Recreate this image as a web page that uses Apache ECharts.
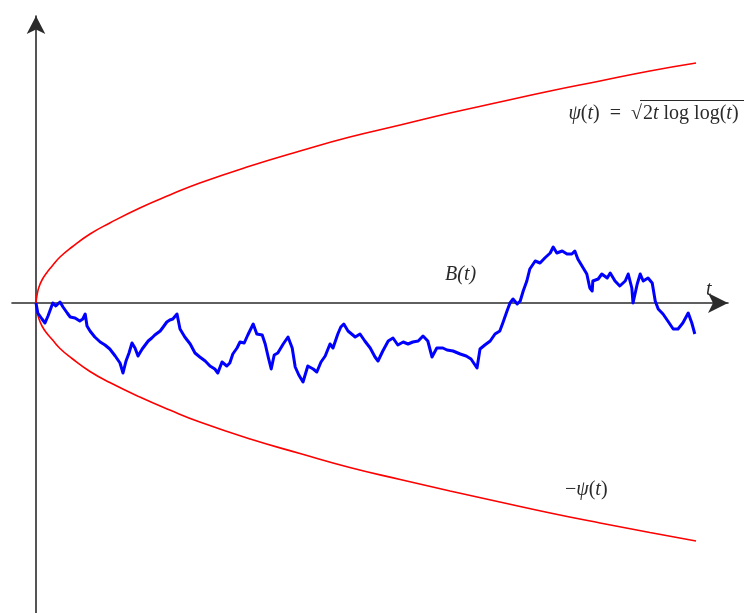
<!DOCTYPE html>
<html>
<head>
<meta charset="utf-8">
<script src="https://cdn.jsdelivr.net/npm/echarts@6/dist/echarts.min.js"></script>
<style>
  html, body { margin: 0; padding: 0; background: #fff; }
  #chart { width: 744px; height: 613px; }
</style>
</head>
<body>
<div id="chart"></div>
<script>
// Sample path of Brownian motion B(t)
const pathT = [0,0.3,1.0,1.5,2.0,2.8,3.3,4.0,4.5,5.2,5.7,6.5,7.3,7.8,8.2,8.5,9.0,9.8,10.7,11.5,12.3,13.2,14.0,14.5,15.0,15.5,16.0,16.5,17.0,17.7,18.7,19.3,19.8,20.7,21.2,21.8,22.3,22.8,23.5,24.0,24.8,25.7,26.5,27.3,28.2,29.0,29.8,30.3,31.0,31.8,32.3,32.8,33.5,34.0,34.7,35.3,36.2,36.8,37.7,38.2,38.7,39.2,39.7,40.3,41.2,42.0,42.7,43.2,43.8,44.5,45.3,46.2,46.8,47.5,48.2,49.0,49.5,50.3,50.8,51.3,52.0,53.2,54.0,54.8,55.7,56.5,57.0,57.8,58.7,59.5,60.3,61.2,62.0,62.8,63.7,64.5,65.3,66.0,66.8,67.8,68.5,69.5,70.7,71.7,72.5,73.5,74.0,74.8,75.7,76.5,77.3,77.8,78.5,79.0,79.5,80.2,80.7,81.2,81.8,82.3,83.2,84.0,84.8,85.7,86.2,86.8,87.7,88.5,89.3,89.8,90.3,91.2,91.8,92.3,92.7,92.8,93.7,94.3,95.2,95.7,96.5,97.3,98.2,98.7,99.3,99.5,100.2,100.7,101.2,102.0,102.7,103.2,103.7,104.5,105.3,106.2,107.0,107.8,108.7,109.0,109.3,109.8];
const pathB = [0,-2,-3.2,-4,-2.6,0,-0.6,0.2,-0.8,-2,-2.8,-3,-3.6,-3.2,-2.2,-4.6,-5.6,-6.8,-7.8,-8.4,-9.2,-10.6,-12,-14,-11.6,-10,-8,-9,-10.6,-9.2,-7.6,-7,-6.4,-5.6,-4.8,-3.8,-3.4,-3.2,-2.2,-5.2,-6.8,-8.2,-10,-10.8,-11.6,-12.6,-13.2,-14,-11.8,-12.6,-12,-10.2,-9,-7.8,-8,-6.4,-4.2,-6.2,-6.4,-8.2,-10.8,-13.2,-10.4,-10,-8.2,-6.8,-9,-12.8,-14.4,-15.8,-12.6,-13.2,-13.8,-11.8,-10.6,-8.2,-9,-6.2,-4.8,-4.2,-5.6,-6.8,-6.2,-7.6,-9,-10.8,-11.6,-9.6,-7.6,-7,-8.4,-7.8,-8.2,-7.8,-7.6,-6.6,-7.6,-10.8,-9,-9,-9.4,-9.6,-10.2,-10.6,-11.2,-13,-9.2,-8.4,-7.6,-6.2,-5.6,-4,-1.6,0,0.8,-0.2,0.4,2.4,4.4,6.8,8.4,8,9,10,11.2,10,10.4,9.8,9.8,10.4,8.8,7,5.8,3,2.4,4.4,4.8,5.8,5,6,4.4,3.4,4.4,5.8,3,0,3.8,5.8,4.4,5,4,0.4,-1.2,-2.2,-3.6,-5.2,-5.2,-4,-2,-1.6,-4,-6.2];

// Envelope psi(t) and -psi(t)
const envT     = [0,0.2,0.5,1.0,1.7,2.7,4.0,6.0,9.0,12.3,17.3,22.3,27.3,35.7,44.0,52.3,60.7,69.0,77.3,85.7,94.0,102.3,110];
const psiUpper = [0,1.8,3.2,4.6,5.9,7.4,9.2,11.2,13.8,16.0,19.0,21.6,24.0,27.4,30.4,33.2,35.6,38.0,40.2,42.4,44.4,46.4,48];
const psiLower = [0,-1.8,-3.2,-4.6,-5.9,-7.3,-9.1,-11.1,-13.7,-15.9,-18.8,-21.4,-23.8,-27.2,-30.1,-32.9,-35.3,-37.6,-39.8,-42.0,-44.0,-45.9,-47.6];

const zip = (xs, ys) => xs.map((x, i) => [x, ys[i]]);

const serif = '"Liberation Serif", "DejaVu Serif", serif';
const textColor = '#2a2a2a';
const fs = 20;
const italicRich = { i: { fontStyle: 'italic', fontFamily: serif, fontSize: fs, fill: textColor } };

const chart = echarts.init(document.getElementById('chart'), null, { renderer: 'canvas' });

const axisCommon = {
  type: 'value',
  axisTick: { show: false },
  axisLabel: { show: false },
  splitLine: { show: false }
};

chart.setOption({
  animation: false,
  backgroundColor: '#ffffff',
  grid: { left: 12, right: 16, top: 16, bottom: 0 },
  xAxis: Object.assign({}, axisCommon, {
    min: -4, max: 115.33,
    axisLine: { onZero: true, symbol: ['none', 'arrow'], symbolSize: [15, 20],
                lineStyle: { color: '#2b2b2b', width: 1.6 } }
  }),
  yAxis: Object.assign({}, axisCommon, {
    min: -62, max: 57.4,
    axisLine: { onZero: true, symbol: ['none', 'arrow'], symbolSize: [14, 18],
                lineStyle: { color: '#2b2b2b', width: 1.6 } }
  }),
  series: [
    {
      name: 'psi', type: 'line', data: zip(envT, psiUpper), smooth: true,
      showSymbol: false, lineStyle: { color: '#ff0000', width: 1.6 }, z: 2
    },
    {
      name: '-psi', type: 'line', data: zip(envT, psiLower), smooth: true,
      showSymbol: false, lineStyle: { color: '#ff0000', width: 1.6 }, z: 2
    },
    {
      name: 'B', type: 'line', data: zip(pathT, pathB),
      showSymbol: false, lineStyle: { color: '#0000ff', width: 3, join: 'round' }, z: 3
    }
  ],
  graphic: [
    {
      // "psi(t) = sqrt" part, ending where the radical bar starts
      type: 'text', x: 642, y: 114, z: 10,
      style: {
        text: '{i|ψ}({i|t})  =  √', font: fs + 'px ' + serif, fill: textColor,
        align: 'right', verticalAlign: 'middle', rich: italicRich
      }
    },
    {
      type: 'text', x: 643, y: 114, z: 10,
      style: {
        text: '2{i|t} log log({i|t})', font: fs + 'px ' + serif, fill: textColor,
        align: 'left', verticalAlign: 'middle', rich: italicRich
      }
    },
    {
      // radical bar over the argument
      type: 'line', z: 10,
      shape: { x1: 640, y1: 100.5, x2: 744, y2: 100.5 },
      style: { stroke: textColor, lineWidth: 1.2 }
    },
    {
      type: 'text', x: 445, y: 275, z: 10,
      style: { text: 'B(t)', font: 'italic ' + fs + 'px ' + serif, fill: textColor,
               align: 'left', verticalAlign: 'middle' }
    },
    {
      type: 'text', x: 706, y: 290, z: 10,
      style: { text: 't', font: 'italic ' + fs + 'px ' + serif, fill: textColor,
               align: 'left', verticalAlign: 'middle' }
    },
    {
      type: 'text', x: 565, y: 490, z: 10,
      style: {
        text: '−{i|ψ}({i|t})', font: fs + 'px ' + serif, fill: textColor,
        align: 'left', verticalAlign: 'middle', rich: italicRich
      }
    }
  ]
});
</script>
</body>
</html>
